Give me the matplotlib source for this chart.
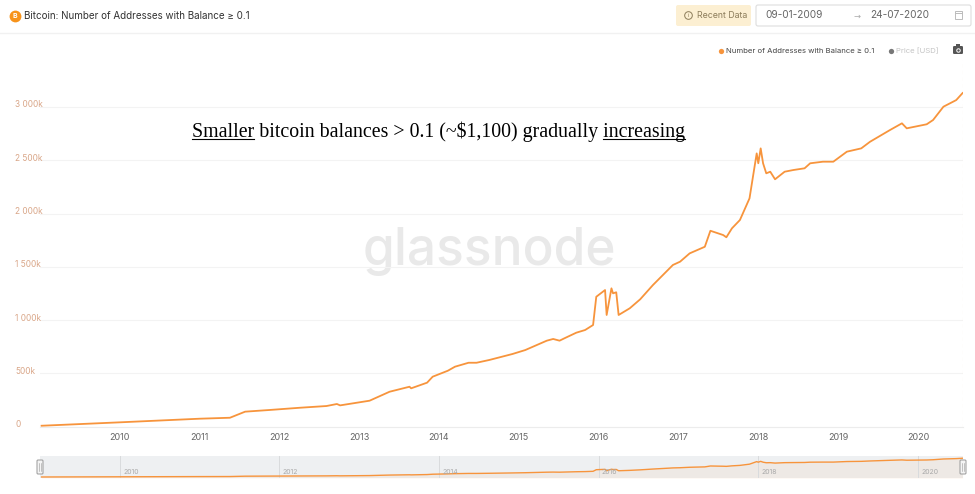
import matplotlib
matplotlib.use("Agg")
import matplotlib.pyplot as plt
from matplotlib.patches import FancyBboxPatch, Rectangle
from matplotlib.transforms import ScaledTranslation

# ---------------- data ----------------
years = [2009.02, 2010.0, 2011.0, 2011.38, 2011.57, 2011.88, 2012.26, 2012.59, 2012.72,
         2012.76, 2013.13, 2013.38, 2013.63, 2013.65, 2013.85, 2013.92, 2014.11, 2014.20,
         2014.37, 2014.47, 2014.63, 2014.92, 2015.08, 2015.35, 2015.43, 2015.51, 2015.57,
         2015.72, 2015.83, 2015.93, 2015.97,
         2016.08, 2016.10, 2016.16, 2016.18, 2016.22, 2016.25, 2016.39, 2016.52, 2016.68,
         2016.93, 2017.02, 2017.14, 2017.33, 2017.40, 2017.56, 2017.60, 2017.67, 2017.77,
         2017.89, 2017.94, 2017.98, 2018.00, 2018.03, 2018.06, 2018.10, 2018.15, 2018.21,
         2018.33, 2018.44, 2018.58, 2018.65, 2018.81, 2018.94, 2019.11, 2019.29, 2019.40,
         2019.65, 2019.80, 2019.86, 2020.11, 2020.19, 2020.32, 2020.48, 2020.56]
addresses_k = [9, 41, 75, 84, 141, 157, 178, 194, 213,
               200, 244, 328, 375, 360, 413, 469, 525, 563,
               600, 600, 626, 682, 719, 807, 823, 807, 829,
               882, 907, 954, 1219,
               1282, 1048, 1298, 1251, 1261, 1048, 1111, 1195, 1329,
               1517, 1548, 1626, 1688, 1838, 1798, 1777, 1861, 1939,
               2142, 2377, 2564, 2471, 2611, 2471, 2377, 2392, 2321,
               2392, 2408, 2424, 2471, 2486, 2486, 2580, 2611, 2673,
               2783, 2846, 2799, 2837, 2877, 3002, 3064, 3130]
xtick_years = [2010, 2011, 2012, 2013, 2014, 2015, 2016, 2017, 2018, 2019, 2020]
ytick_values = [0, 500, 1000, 1500, 2000, 2500, 3000]
ytick_labels = ["0", "500k", "1 000k", "1 500k", "2 000k", "2 500k", "3 000k"]
nav_years = [2010, 2012, 2014, 2016, 2018, 2020]
title = "Bitcoin: Number of Addresses with Balance \u2265 0.1"
series_name = "Number of Addresses with Balance \u2265 0.1"
price_name = "Price [USD]"
start_date = "09-01-2009"
end_date = "24-07-2020"
annotation = "Smaller bitcoin balances > 0.1 (~$1,100) gradually increasing"
underlined_first = "Smaller"
underlined_last = "increasing"

ORANGE = "#f7943c"
W, H = 975, 494

plt.rcParams["font.family"] = ["Inter", "DejaVu Sans"]

fig = plt.figure(figsize=(W / 100, H / 100), dpi=100)
fig.patch.set_facecolor("white")
renderer = fig.canvas.get_renderer()

def px_rect(x0, y0, x1, y1):
    return [x0 / W, 1 - y1 / H, (x1 - x0) / W, (y1 - y0) / H]

# ---------------- main axes ----------------
ax = fig.add_axes(px_rect(40, 60, 963, 426.7))
ax.set_facecolor("none")
ax.plot(years, addresses_k, color=ORANGE, lw=1.3, solid_joinstyle="round", zorder=3)
ax.set_xlim(2009.0, 2020.565)
ax.set_ylim(0, 3440)
ax.set_yticks(ytick_values)
ax.set_yticklabels(ytick_labels)
ax.set_xticks(xtick_years)
ax.set_xticklabels([str(y) for y in xtick_years])
ax.grid(axis="y", color="#f3f3f3", lw=0.8)
ax.set_axisbelow(True)
for s in ["top", "right", "left"]:
    ax.spines[s].set_visible(False)
ax.spines["bottom"].set_color("#ececec")
ax.spines["bottom"].set_linewidth(0.8)
ax.tick_params(axis="both", length=0)
ax.tick_params(axis="x", pad=4.5, labelsize=6.5, labelcolor="#666666")
ax.tick_params(axis="y", pad=18, labelsize=6, labelcolor="#d9a688")
for lbl in ax.get_yticklabels():
    lbl.set_horizontalalignment("left")
    lbl.set_transform(lbl.get_transform() + ScaledTranslation(0, 3 / 100, fig.dpi_scale_trans))
ax.axvline(2020.565, color="#fbe3cc", lw=0.8, ls=(0, (3, 3)), zorder=1)

# ---------------- overlay (header, legend, annotation, handles) ----------------
ov = fig.add_axes([0, 0, 1, 1])
ov.set_xlim(0, W)
ov.set_ylim(H, 0)
ov.axis("off")
ov.set_zorder(5)

# watermark (behind the data line: drawn on main axes level via zorder trick)
ax.text((489 - 40) / 923, (426.7 - 265) / 366.7, "glassnode", transform=ax.transAxes,
        ha="center", va="baseline", fontsize=37, color="#e9e9e9",
        family=["Inter", "DejaVu Sans"], fontweight="medium", zorder=0)

# annotation with underlined words
ann_kw = dict(fontsize=14.3, family="Liberation Serif", color="black")
ann_x, ann_base = 192, 137
ov.text(ann_x, ann_base, annotation, ha="left", va="baseline", **ann_kw)

def text_width_px(s):
    tt = ov.text(0, 0, s, **ann_kw)
    w = tt.get_window_extent(renderer).width
    tt.remove()
    return w

full_w = text_width_px(annotation)
w_first = text_width_px(underlined_first)
w_last = text_width_px(underlined_last)
ul_y = ann_base + 2.4
ov.plot([ann_x, ann_x + w_first], [ul_y, ul_y], color="black", lw=0.8)
ov.plot([ann_x + full_w - w_last, ann_x + full_w], [ul_y, ul_y], color="black", lw=0.8)

# header
ov.plot([0, W], [33, 33], color="#f1f1f1", lw=1)
ov.plot(14.5, 16, "o", ms=8.5, color="#f7931a", mec="none")
ov.text(14.6, 16.3, "B", fontsize=5, color="white", ha="center", va="center", fontweight="bold")
ov.text(24, 16, title, fontsize=7.1, color="#333333", ha="left", va="center")

ov.add_patch(FancyBboxPatch((676, 5), 75, 21, boxstyle="round,pad=0,rounding_size=2",
                            fc="#fcefd2", ec="none"))
ov.plot(688, 15.5, "o", ms=5.5, mfc="none", mec="#8c7c5a", mew=0.7)
ov.text(688, 15.7, "i", fontsize=4, color="#8c7c5a", ha="center", va="center")
ov.text(697, 15.5, "Recent Data", fontsize=6.3, color="#8c7c5a", ha="left", va="center")

ov.add_patch(FancyBboxPatch((756, 5), 215, 21, boxstyle="round,pad=0,rounding_size=2",
                            fc="white", ec="#dddddd", lw=0.8))
ov.text(765, 15.5, start_date, fontsize=7.3, color="#666666", ha="left", va="center")
ov.text(857, 15.8, "\u2192", fontsize=6, color="#aaaaaa", ha="center", va="center",
        family="DejaVu Sans")
ov.text(870, 15.5, end_date, fontsize=7.3, color="#666666", ha="left", va="center")
ov.add_patch(Rectangle((955, 11.5), 7, 8, fc="none", ec="#bbbbbb", lw=0.7))
ov.plot([955, 962], [13.5, 13.5], color="#bbbbbb", lw=0.7)

# legend
ov.plot(721, 51, "o", ms=3.8, color=ORANGE, mec="none")
ov.text(726, 51.3, series_name, fontsize=5.55, color="#444444", ha="left", va="center")
ov.plot(891, 51, "o", ms=3.8, color="#777777", mec="none")
ov.text(896, 51.3, price_name, fontsize=5.55, color="#c4c4c4", ha="left", va="center")
ov.add_patch(FancyBboxPatch((953, 46), 10, 8, boxstyle="round,pad=0,rounding_size=1.2",
                            fc="#555555", ec="none"))
ov.add_patch(Rectangle((956, 44.5), 4, 2, fc="#555555", ec="none"))
ov.plot(958, 50, "o", ms=3.2, mfc="white", mec="none")
ov.plot(958, 50, "o", ms=1.8, mfc="#555555", mec="none")

# ---------------- navigator ----------------
nav = fig.add_axes(px_rect(40, 456, 963, 478))
nav.set_facecolor("#eef0f2")
nav.plot(years, addresses_k, color=ORANGE, lw=1.0, zorder=3)
nav.fill_between(years, addresses_k, -200, color=ORANGE, alpha=0.07, lw=0)
nav.set_xlim(2009.0, 2020.565)
nav.set_ylim(-160, 3500)
nav.set_xticks([])
nav.set_yticks([])
for s in nav.spines.values():
    s.set_visible(False)
for yr in nav_years:
    nav.axvline(yr, color="#d9dbdd", lw=0.7, zorder=1)
    nav.text(yr + 0.04, 0.12, str(yr), transform=nav.get_xaxis_transform(),
             fontsize=5, color="#a9a9a9", ha="left", va="bottom")

# navigator handles
for hx in (40, 963):
    ov.add_patch(FancyBboxPatch((hx - 3, 460), 6, 14, boxstyle="round,pad=0,rounding_size=1",
                                fc="#f4f4f4", ec="#999999", lw=0.7))
    ov.plot([hx - 0.8, hx - 0.8], [463, 471], color="#999999", lw=0.4)
    ov.plot([hx + 0.8, hx + 0.8], [463, 471], color="#999999", lw=0.4)

fig.savefig("out.png", dpi=100, facecolor="white")
